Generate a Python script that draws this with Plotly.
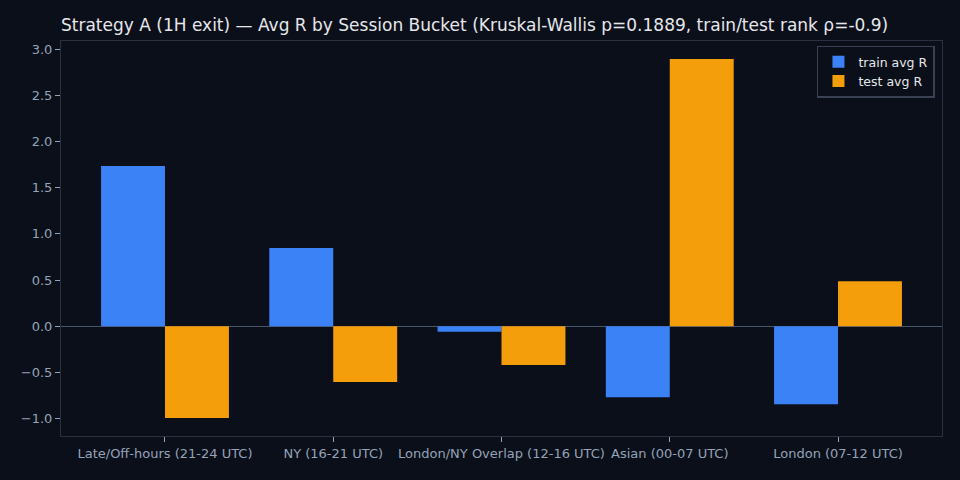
import plotly.graph_objects as go

sessions = ['Late/Off-hours (21-24 UTC)', 'NY (16-21 UTC)', 'London/NY Overlap (12-16 UTC)',
            'Asian (00-07 UTC)', 'London (07-12 UTC)']
train_avg_r = [1.735, 0.846, -0.06, -0.77, -0.846]
test_avg_r = [-0.995, -0.604, -0.42, 2.895, 0.488]
y_ticks = [-1.0, -0.5, 0.0, 0.5, 1.0, 1.5, 2.0, 2.5, 3.0]

bg = '#0b0f19'
tick_col = '#94a3b8'

fig = go.Figure()
fig.add_trace(go.Bar(x=sessions, y=train_avg_r, name='train avg R', marker_color='#3b82f6',
                     marker_line_width=0))
fig.add_trace(go.Bar(x=sessions, y=test_avg_r, name='test avg R', marker_color='#f59e0b',
                     marker_line_width=0))

fig.update_layout(
    width=960, height=480,
    paper_bgcolor=bg, plot_bgcolor=bg,
    font=dict(family='DejaVu Sans', color=tick_col, size=13),
    margin=dict(l=61, r=18, t=41, b=44),
    barmode='group', bargap=0.24, bargroupgap=0,
    title=dict(text='Strategy A (1H exit) — Avg R by Session Bucket (Kruskal-Wallis p=0.1889, train/test rank ρ=-0.9)',
               x=61 / 960, xanchor='left', xref='container', y=1 - 25 / 480, yanchor='middle',
               font=dict(size=17, color='#e5e7eb')),
    legend=dict(x=0.992, y=0.988, xanchor='right', yanchor='top', bgcolor=bg,
                bordercolor='#3a4152', borderwidth=1.5, font=dict(color='#e5e7eb', size=12.5),
                tracegroupgap=0),
    showlegend=True,
)
fig.update_xaxes(range=[-0.618, 4.618], showline=True, mirror=True, linecolor='#2a3040', linewidth=1,
                 ticks='outside', ticklen=5, tickcolor=tick_col, showgrid=False,
                 tickfont=dict(size=13, color=tick_col))
fig.update_yaxes(range=[-1.19, 3.09], tickvals=y_ticks, tickformat='.1f', showline=True, mirror=True,
                 linecolor='#2a3040', linewidth=1, ticks='outside', ticklen=5, tickcolor=tick_col,
                 showgrid=False, zeroline=True, zerolinecolor='#475569', zerolinewidth=1,
                 tickfont=dict(size=13, color=tick_col))

# drop the page margin so the figure fills the window
fig.write_html('out.html', config={'displayModeBar': False},
               post_script="document.body.style.margin='0';document.body.style.background='#0b0f19';")
